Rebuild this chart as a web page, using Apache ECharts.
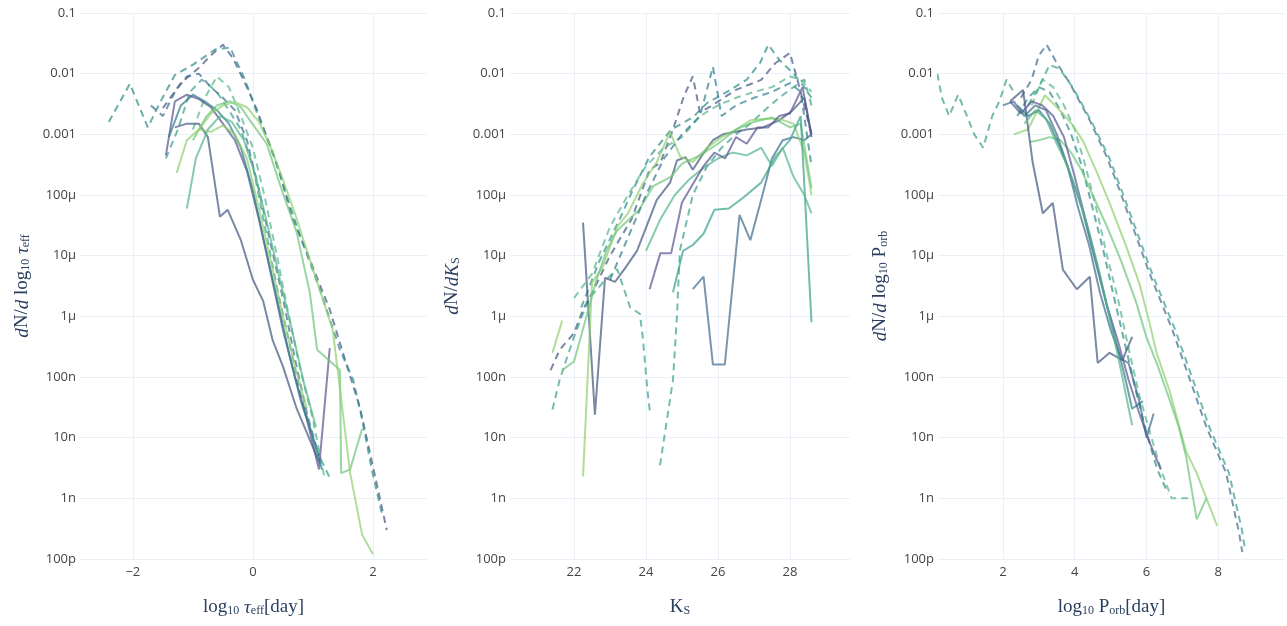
<!DOCTYPE html>
<html>
<head>
<meta charset="utf-8">
<script src="https://cdn.jsdelivr.net/npm/echarts@6/dist/echarts.min.js"></script>
<style>
	html, body { margin: 0; padding: 0; background: #fff; }
	#chart { width: 1287px; height: 626px; }
</style>
</head>
<body>
<div id="chart"></div>
<script>
	// tick labels of the log y axes, from 1e-10 up to 1e-1
	var yTickLabels = ['100p', '1n', '10n', '100n', '1μ', '10μ', '100μ', '0.001', '0.01', '0.1'];

	// panel 1 : dN/dlog10 tau_eff
	var tauX = [
		[-1.5, -1.2, -0.9, -0.7, -0.5, -0.33, -0.1, 0.07, 0.23, 0.45, 0.65, 0.95, 1.28, 1.5, 1.78, 1.95, 2.12, 2.23],
		[-2.4, -2.05, -1.75, -1.55, -1.3, -1.0, -0.63, -0.38, -0.13, 0.08, 0.32, 0.53, 0.78, 1.12, 1.45, 1.67, 1.82, 1.98, 2.15],
		[-1.45, -1.25, -1.05, -0.85, -0.6, -0.4, -0.2, 0, 0.2, 0.4, 0.6, 0.8, 1.0, 1.15, 1.3],
		[-1.0, -0.8, -0.6, -0.4, -0.2, 0, 0.2, 0.4, 0.6, 0.8, 1.0, 1.2],
		[-1.7, -1.5, -1.3, -1.1, -0.9, -0.7, -0.5, -0.3, -0.1, 0.1, 0.3, 0.5, 0.7, 0.9, 1.1],
		[-1.3, -1.1, -0.9, -0.75, -0.55, -0.42, -0.2, 0, 0.17, 0.33, 0.5, 0.73, 0.9, 1.1],
		[-1.45, -1.3, -1.1, -0.9, -0.7, -0.5, -0.3, -0.1, 0.1, 0.3, 0.5, 0.7, 0.9, 1.1, 1.28],
		[-1.4, -1.2, -1.0, -0.8, -0.6, -0.4, -0.2, 0, 0.2, 0.4, 0.6, 0.8, 1.0, 1.15],
		[-1.0, -0.77, -0.6, -0.38, -0.2, -0.05, 0.23, 0.45, 0.73, 0.95, 1.07, 1.45, 1.47, 1.62, 1.82],
		[-0.9, -0.7, -0.5, -0.3, -0.1, 0.1, 0.3, 0.5, 0.7, 0.9, 1.1, 1.33, 1.62, 1.82, 2.0],
		[-1.1, -0.95, -0.75, -0.55, -0.35, -0.15, 0.05, 0.25, 0.45, 0.65, 0.85, 1.05],
		[-1.27, -1.1, -0.9, -0.7, -0.5, -0.3, -0.1, 0.1, 0.3, 0.5, 0.7, 0.9]
	];
	var tauY = [
		[2.7e-3, 7e-3, 1.25e-2, 2e-2, 3e-2, 1.8e-2, 6e-3, 2.5e-3, 9e-4, 2.3e-4, 4.4e-5, 8.5e-6, 1.3e-6, 2.5e-7, 3.2e-8, 5.6e-9, 9.5e-10, 3e-10],
		[1.6e-3, 6.8e-3, 1.3e-3, 3.3e-3, 9.5e-3, 1.4e-2, 2.5e-2, 2.7e-2, 7.9e-3, 2.1e-3, 5.5e-4, 1.2e-4, 2.2e-5, 2.7e-6, 2.8e-7, 9e-8, 2e-8, 3e-9, 5.5e-10],
		[4e-4, 1.2e-3, 5e-3, 8e-3, 5e-3, 2.5e-3, 1.2e-3, 3e-4, 3e-5, 3e-6, 4e-7, 5e-8, 1e-8, 4e-9, 2e-9],
		[1.2e-3, 4e-3, 9e-3, 6e-3, 2e-3, 6e-4, 9e-5, 1e-5, 1e-6, 1.2e-7, 2e-8, 2e-9],
		[3e-3, 2e-3, 5e-3, 9e-3, 1e-2, 6e-3, 4e-3, 2.5e-3, 8e-4, 1.2e-4, 1.5e-5, 2e-6, 2e-7, 2.5e-8, 5e-9],
		[1.3e-3, 1.5e-3, 1.5e-3, 9e-4, 4.4e-5, 5.7e-5, 1.8e-5, 4e-6, 1.8e-6, 4e-7, 1.5e-7, 3e-8, 1.2e-8, 4e-9],
		[4.5e-4, 3.5e-3, 4.5e-3, 3.8e-3, 2.8e-3, 1.5e-3, 8e-4, 2.5e-4, 4e-5, 5e-6, 6e-7, 1e-7, 2e-8, 3e-9, 3e-7],
		[9e-4, 3e-3, 4.5e-3, 3.5e-3, 2.5e-3, 1.5e-3, 6e-4, 1.2e-4, 1.5e-5, 2e-6, 2.5e-7, 4e-8, 1e-8, 3e-9],
		[8e-4, 2e-3, 3e-3, 3.5e-3, 2.8e-3, 1.7e-3, 7e-4, 1.5e-4, 2.4e-5, 2.4e-6, 2.8e-7, 1.3e-7, 2.6e-9, 3e-9, 1.4e-8],
		[1.2e-3, 2.2e-3, 3e-3, 3.4e-3, 2.8e-3, 1.6e-3, 6e-4, 1.8e-4, 5e-5, 1.2e-5, 3e-6, 6e-7, 2.6e-9, 2.5e-10, 1.2e-10],
		[6e-5, 4e-4, 1.2e-3, 2e-3, 1.6e-3, 8e-4, 2e-4, 3e-5, 4e-6, 6e-7, 8e-8, 1.5e-8],
		[2.3e-4, 8e-4, 1.2e-3, 1.1e-3, 1.4e-3, 1e-3, 4e-4, 6e-5, 8e-6, 1e-6, 1.5e-7, 3e-8]
	];
	var tauKind = ['dash', 'dash', 'dash', 'dash', 'dash', 'solid', 'solid', 'solid', 'solid', 'solid', 'solid', 'solid'];
	var tauShade = [0, 3, 4, 5, 1, 0, 7, 2, 6, 8, 5, 8];

	// panel 2 : dN/dK_S
	var ksX = [
		[22.2, 22.7, 23.3, 23.6, 24.1, 24.7, 25.3, 25.7, 26.25, 26.8, 27.17, 27.4, 27.7, 28.1, 28.4, 28.6],
		[21.35, 21.6, 22.0, 22.25, 22.5, 23.0, 23.6, 24.1, 24.4, 24.75, 25.05, 25.3, 25.5, 25.8, 26.5, 27.2, 27.6, 28.0, 28.3, 28.6],
		[21.4, 21.6, 22.0, 22.4, 22.8, 23.2, 23.56, 23.83, 23.92, 24.03, 24.11, 24.25, 24.39, 24.75, 24.86, 24.94, 25.3, 25.7, 26.1, 26.5, 26.9, 27.3, 27.7, 28.1, 28.4, 28.6],
		[22.25, 22.58, 22.86, 23.14, 23.4, 23.75, 24.3, 24.67, 24.86, 25.1, 25.3, 25.6, 25.86, 26.14, 26.8, 27.25, 27.7, 28.08, 28.4, 28.6],
		[25.3, 25.6, 25.86, 26.19, 26.6, 26.9, 27.2, 27.5, 27.8, 28.1, 28.4, 28.6],
		[22.25, 22.5, 22.8, 23.2, 23.5, 23.9, 24.3, 24.67, 24.95, 25.3, 25.7, 26.1, 26.5, 26.9, 27.3, 27.7, 28.1, 28.4, 28.6],
		[21.67, 22.0, 22.3, 22.6, 22.9, 23.2, 23.8, 24.2, 24.7, 25.0, 25.5, 26.0, 26.5, 27.0, 27.5, 28.0, 28.3, 28.6],
		[24.75, 25.03, 25.3, 25.6, 25.9, 26.3, 26.7, 27.2, 27.6, 28.0, 28.3, 28.6],
		[24.0, 24.4, 24.8, 25.2, 25.6, 26.0, 26.4, 26.8, 27.2, 27.5, 27.8, 28.1, 28.4, 28.6],
		[24.1, 24.4, 24.7, 25.0, 25.3, 25.6, 25.9, 26.2, 26.5, 26.8, 27.1, 27.4, 27.7, 28.0, 28.35, 28.6],
		[22.0, 22.5, 23.0, 23.5, 24.0, 24.5, 25.0, 25.5, 26.0, 26.5, 27.0, 27.5, 28.0, 28.3, 28.6],
		[23.0, 23.5, 24.0, 24.5, 25.0, 25.5, 25.86, 26.1, 26.5, 27.0, 27.5, 28.0, 28.3, 28.6],
		[21.4, 21.67]
	];
	var ksY = [
		[1.4e-6, 8e-6, 4.4e-5, 1.1e-4, 4.3e-4, 1.2e-3, 1.9e-3, 3.3e-3, 5e-3, 8e-3, 1.5e-2, 3e-2, 1.7e-2, 1e-2, 6e-3, 4e-3],
		[1.3e-7, 2.8e-7, 5.3e-7, 1.3e-6, 2.4e-6, 1e-5, 4e-5, 2.6e-4, 3.4e-4, 1.2e-3, 4.2e-3, 9e-3, 2.3e-3, 2.9e-3, 5.4e-3, 7.9e-3, 1.5e-2, 2.2e-2, 5e-3, 1e-3],
		[2.9e-8, 9e-8, 4.6e-7, 1.9e-6, 3.6e-6, 6e-6, 1.4e-6, 1.1e-6, 4e-7, 6.9e-8, 2.6e-8, null, 3.5e-9, 9e-8, 1e-6, 1.2e-5, 1e-4, 3e-4, 6e-4, 1e-3, 1.5e-3, 2.5e-3, 4e-3, 6e-3, 8e-3, 3e-3],
		[3.5e-5, 2.4e-8, 4.3e-6, 3.7e-6, 6e-6, 1.2e-5, 8.3e-5, 1.6e-4, 3.7e-4, 4.2e-4, 2.6e-4, 4.9e-4, 8e-4, 1e-3, 1.2e-3, 1.3e-3, 1.7e-3, 2.5e-3, 4e-3, 9e-4],
		[2.8e-6, 4.5e-6, 1.6e-7, 1.6e-7, 4.7e-5, 1.8e-5, 8.3e-5, 4e-4, 8e-4, 9e-4, 8e-4, 1e-3],
		[2.3e-9, 3.6e-6, 6.6e-6, 3e-5, 5e-5, 1.5e-4, 3.5e-4, 1.1e-3, 4.3e-4, 3.5e-4, 6e-4, 9e-4, 1.2e-3, 1.7e-3, 1.8e-3, 1.8e-3, 1.5e-3, 5e-4, 1e-4],
		[1.3e-7, 1.8e-7, 8e-7, 3.6e-6, 1.2e-5, 2.6e-5, 5.6e-5, 1.4e-4, 2e-4, 3.3e-4, 4.5e-4, 7e-4, 1.2e-3, 1.6e-3, 1.9e-3, 1.3e-3, 1.5e-3, 1.3e-4],
		[2.5e-6, 1.2e-5, 1.5e-5, 2.3e-5, 5.7e-5, 6e-5, 9e-5, 1.6e-4, 4.3e-4, 8e-4, 2e-3, 8e-7],
		[1.2e-5, 4e-5, 1e-4, 1.8e-4, 2.8e-4, 4e-4, 5e-4, 4.5e-4, 6e-4, 3e-4, 6e-4, 2e-4, 1e-4, 5e-5],
		[2.8e-6, 1.1e-5, 1.1e-5, 7.5e-5, 1.5e-4, 3e-4, 5e-4, 4e-4, 9e-4, 7e-4, 1.3e-3, 1.3e-3, 2e-3, 2.2e-3, 6e-3, 1e-3],
		[2e-6, 5e-6, 3e-5, 1e-4, 3e-4, 6e-4, 9e-4, 2e-3, 3e-3, 4e-3, 5e-3, 6e-3, 9e-3, 8e-3, 5e-3],
		[4e-6, 2e-5, 1e-4, 4e-4, 1e-3, 2e-3, 1.3e-2, 2e-3, 3e-3, 4e-3, 5e-3, 7e-3, 5e-3, 3e-4],
		[2.5e-7, 8.5e-7]
	];
	var ksKind = ['dash', 'dash', 'dash', 'solid', 'solid', 'solid', 'solid', 'solid', 'solid', 'solid', 'dash', 'dash', 'solid'];
	var ksShade = [3, 0, 4, 0, 1, 8, 6, 4, 5, 7, 5, 2, 8];

	// panel 3 : dN/dlog10 P_orb
	var porbX = [
		[2.5, 2.8, 3.0, 3.22, 3.5, 3.86, 4.42, 4.89, 5.25, 6.08, 6.72, 7.28, 7.67, 8.22, 8.58, 8.67],
		[2.7, 3.0, 3.3, 3.58, 3.94, 4.5, 4.97, 5.33, 6.16, 6.8, 7.36, 7.75, 8.3, 8.66, 8.75],
		[2.4, 2.7, 3.0, 3.3, 3.6, 3.9, 4.2, 4.5, 4.8, 5.1, 5.4, 5.7, 6.0, 6.3, 6.6],
		[2.8, 3.1, 3.4, 3.7, 4.0, 4.3, 4.6, 4.9, 5.2, 5.5, 5.8, 6.1, 6.4, 6.7, 7.0, 7.3],
		[0.17, 0.3, 0.5, 0.75, 1.0, 1.2, 1.45, 1.7, 1.9, 2.1, 2.3],
		[2.3, 2.7, 2.95, 3.17, 3.45, 3.67, 3.95, 4.22, 4.6, 4.97, 5.44, 5.8, 6.08, 6.28, 6.64, 7.1, 7.4, 7.67, 7.97],
		[2.75, 3.0, 3.3, 3.6, 3.9, 4.2, 4.5, 4.9, 5.3, 5.7, 6.0, 6.3, 6.6, 6.9, 7.1, 7.4, 7.67],
		[2.2, 2.56, 2.83, 3.11, 3.39, 3.67, 4.06, 4.42, 4.64, 4.97, 5.33, 5.6],
		[2.2, 2.5, 2.8, 3.1, 3.4, 3.7, 4.0, 4.3, 4.6, 4.9, 5.2, 5.5, 5.8, 6.1, 6.4],
		[2.0, 2.3, 2.6, 2.9, 3.2, 3.5, 3.8, 4.1, 4.4, 4.7, 5.0, 5.3, 5.5, 5.8, 6.0, 6.2],
		[2.4, 2.7, 3.0, 3.3, 3.6, 3.9, 4.2, 4.5, 4.8, 5.1, 5.4, 5.6, 5.9],
		[2.6, 2.9, 3.2, 3.5, 3.8, 4.1, 4.4, 4.7, 5.0, 5.3, 5.6]
	];
	var porbY = [
		[4e-3, 8e-3, 2e-2, 3e-2, 1.5e-2, 7e-3, 1.7e-3, 4.3e-4, 1.2e-4, 5.2e-6, 6e-7, 6.9e-8, 1.5e-8, 2.6e-9, 2.7e-10, 1.3e-10],
		[3e-3, 6e-3, 1.4e-2, 1.2e-2, 6e-3, 1.5e-3, 4e-4, 1.1e-4, 5e-6, 6e-7, 7e-8, 1.5e-8, 2.6e-9, 3e-10, 1.4e-10],
		[2e-3, 4e-3, 6e-3, 5e-3, 2.5e-3, 1e-3, 3e-4, 6e-5, 1.2e-5, 2e-6, 3.5e-7, 6e-8, 1.2e-8, 3e-9, 1.2e-9],
		[3e-3, 8e-3, 6e-3, 3e-3, 1.2e-3, 3e-4, 6e-5, 1e-5, 2e-6, 3e-7, 5e-8, 1.2e-8, 3e-9, 1e-9, 1e-9, 1e-9],
		[1e-2, 4e-3, 2e-3, 4.5e-3, 2e-3, 1e-3, 6e-4, 2e-3, 3.5e-3, 8e-3, 5e-3],
		[1e-3, 1.2e-3, 2.4e-3, 4.4e-3, 3e-3, 2.2e-3, 1.4e-3, 8e-4, 2.5e-4, 7.4e-5, 1.4e-5, 3.5e-6, 8e-7, 2.5e-7, 6e-8, 6e-9, 2.6e-9, 1e-9, 3.5e-10],
		[7.5e-4, 8e-4, 9e-4, 8e-4, 5e-4, 2.5e-4, 1e-4, 3e-5, 8e-6, 1.8e-6, 4.5e-7, 1.6e-7, 5e-8, 1.5e-8, 5e-9, 4.5e-10, 1e-9],
		[3.5e-3, 5.4e-3, 3.4e-4, 5e-5, 7.4e-5, 5.9e-6, 2.8e-6, 4.5e-6, 1.7e-7, 2.5e-7, 1.9e-7, 4.6e-7],
		[3.5e-3, 2.2e-3, 3.5e-3, 3e-3, 2e-3, 9e-4, 2e-4, 4e-5, 8e-6, 1.5e-6, 4e-7, 9e-8, 2.5e-8, 8e-9, 3e-9],
		[3e-3, 3.5e-3, 2e-3, 3e-3, 2.5e-3, 1e-3, 3e-4, 6e-5, 1.5e-5, 2.5e-6, 6e-7, 2e-7, 1.7e-7, 4e-8, 1e-8, 2.5e-8],
		[3e-3, 2e-3, 2.5e-3, 1.5e-3, 6e-4, 2e-4, 6e-5, 1.2e-5, 2.5e-6, 5e-7, 1e-7, 3e-8, 4e-8],
		[1.5e-3, 2.5e-3, 1.8e-3, 7e-4, 3e-4, 1e-4, 2.5e-5, 5e-6, 8e-7, 1.2e-7, 1.6e-8]
	];
	var porbKind = ['dash', 'dash', 'dash', 'dash', 'dash', 'solid', 'solid', 'solid', 'solid', 'solid', 'solid', 'solid'];
	var porbShade = [1, 4, 3, 5, 4, 8, 6, 0, 7, 1, 2, 5];

	// colour ramp, dark slate -> light green
	var shades = ['#41567f', '#3f6a8c', '#2f7c8a', '#2a8b88', '#38a08a', '#52b58a', '#6cc47a', '#57538f', '#8fd06e'];

	var myChart = echarts.init(document.getElementById('chart'));
	var textColor = '#444';
	var titleColor = '#2a3f5f';
	var gridColor = '#ebf0f8';
	var serif = 'Liberation Serif';

	var rich = {
		r: { fontFamily: serif, fontSize: 19, color: titleColor, lineHeight: 24, verticalAlign: 'bottom' },
		i: { fontFamily: serif, fontSize: 19, color: titleColor, lineHeight: 24, verticalAlign: 'bottom', fontStyle: 'italic' },
		s: { fontFamily: serif, fontSize: 12, color: titleColor, lineHeight: 13, verticalAlign: 'bottom' }
	};

	var panels = [
		{ xs: tauX, ys: tauY, kind: tauKind, shade: tauShade, min: -2.88, max: 2.9, left: 80, width: 347,
			xName: '{r|log}{s|10}{r| }{i|τ}{s|eff}{r|[day]}',
			yName: '{i|d}{r|N/}{i|d}{r| log}{s|10}{r| }{i|τ}{s|eff}' },
		{ xs: ksX, ys: ksY, kind: ksKind, shade: ksShade, min: 20.22, max: 29.67, left: 510, width: 340,
			xName: '{r|K}{s|S}',
			yName: '{i|d}{r|N/}{i|dK}{s|S}' },
		{ xs: porbX, ys: porbY, kind: porbKind, shade: porbShade, min: 0.19, max: 9.86, left: 938, width: 347,
			xName: '{r|log}{s|10}{r| P}{s|orb}{r|[day]}',
			yName: '{i|d}{r|N/}{i|d}{r| log}{s|10}{r| P}{s|orb}' }
	];

	var grids = [], xAxes = [], yAxes = [], series = [];
	panels.forEach(function (p, n) {
		grids.push({ left: p.left, top: 13, width: p.width, height: 546 });
		xAxes.push({
			type: 'value', gridIndex: n, min: p.min, max: p.max,
			minInterval: 2, maxInterval: 2,
			name: p.xName, nameLocation: 'middle', nameGap: 34,
			nameTextStyle: { rich: rich },
			axisLine: { show: false }, axisTick: { show: false },
			axisLabel: {
				color: textColor, fontSize: 13, fontFamily: 'Open Sans', margin: 7,
				showMinLabel: false, showMaxLabel: false,
				formatter: function (v) { return v < 0 ? '\u2212' + Math.abs(v) : String(v); }
			},
			splitLine: { show: true, showMinLine: false, showMaxLine: false, lineStyle: { color: gridColor, width: 1 } }
		});
		yAxes.push({
			type: 'log', logBase: 10, gridIndex: n, min: 1e-10, max: 0.1, splitNumber: 9,
			name: p.yName, nameLocation: 'middle', nameRotate: 90, nameGap: 48,
			nameTextStyle: { rich: rich },
			axisLine: { show: false }, axisTick: { show: false },
			axisLabel: {
				color: textColor, fontSize: 13, fontFamily: 'Open Sans', margin: 4,
				formatter: function (v) { return yTickLabels[Math.round(Math.log10(v)) + 10]; }
			},
			splitLine: { show: true, lineStyle: { color: gridColor, width: 1 } }
		});
		p.xs.forEach(function (xv, k) {
			var yv = p.ys[k];
			var data = xv.map(function (x, j) { return [x, yv[j] == null ? '-' : yv[j]]; });
			series.push({
				type: 'line', xAxisIndex: n, yAxisIndex: n, data: data,
				symbol: 'none', silent: true, connectNulls: false,
				lineStyle: {
					color: shades[p.shade[k]], width: 2, opacity: 0.7,
					type: p.kind[k] === 'dash' ? [7, 5] : 'solid'
				}
			});
		});
	});

	var option = {
		animation: false,
		backgroundColor: '#fff',
		grid: grids,
		xAxis: xAxes,
		yAxis: yAxes,
		series: series
	};
	myChart.setOption(option);
</script>
</body>
</html>
